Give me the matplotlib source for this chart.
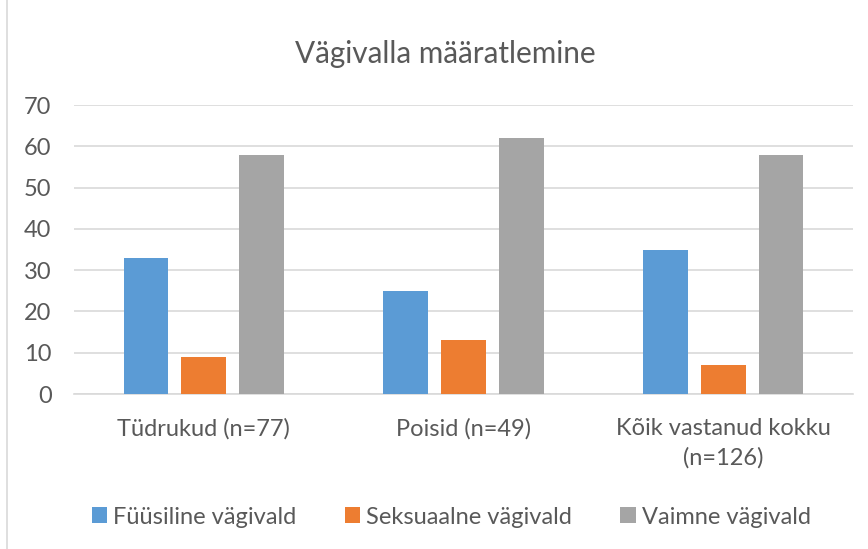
import matplotlib
matplotlib.use("Agg")
import matplotlib.pyplot as plt
import numpy as np
from matplotlib.lines import Line2D

categories = ["Tüdrukud (n=77)", "Poisid (n=49)", "Kõik vastanud kokku\n(n=126)"]
series = ["Füüsiline vägivald", "Seksuaalne vägivald", "Vaimne vägivald"]
fyysiline = [33, 25, 35]
seksuaalne = [9, 13, 7]
vaimne = [58, 62, 58]
colors = ["#5B9BD5", "#ED7D31", "#A5A5A5"]

plt.rcParams["font.family"] = ["Lato", "DejaVu Sans"]
TEXT = "#595959"

fig = plt.figure(figsize=(8.68, 5.49), dpi=100)
ax = fig.add_axes([0.085, 0.2823, 0.898, 0.5264])

x = np.arange(len(categories))
w = 0.173
off = 0.222
for i, (vals, c, lab) in enumerate(zip([fyysiline, seksuaalne, vaimne], colors, series)):
    ax.bar(x + (i - 1) * off, vals, width=w, color=c, label=lab, zorder=3)

ax.set_xlim(-0.5, 2.5)
ax.set_ylim(0, 70)
ax.set_yticks(range(0, 71, 10))
ax.yaxis.grid(True, color="#D9D9D9", linewidth=1.2, zorder=0)
for s in ["top", "right", "left"]:
    ax.spines[s].set_visible(False)
ax.spines["bottom"].set_color("#D9D9D9")
ax.spines["bottom"].set_linewidth(1.2)
ax.tick_params(axis="both", length=0, labelsize=17, colors=TEXT)
ax.tick_params(axis="y", pad=16)
ax.set_xticks(x)
ax.set_xticklabels(categories, linespacing=1.5)
ax.tick_params(axis="x", pad=17)

fig.text(0.5127, 1 - 63 / 549, "Vägivalla määratlemine", ha="center",
         va="baseline", fontsize=21.4, color=TEXT)

handles, labels = ax.get_legend_handles_labels()
leg = fig.legend(handles, labels, loc="center", bbox_to_anchor=(0.52, 0.058),
                 ncol=3, frameon=False, fontsize=17, handlelength=0.65,
                 handleheight=0.65, handletextpad=0.25, columnspacing=2.05)
for t in leg.get_texts():
    t.set_color(TEXT)

fig.add_artist(Line2D([0.008, 0.008], [0, 1], transform=fig.transFigure,
                      color="#D9D9D9", linewidth=1.2))

fig.savefig("out.png", dpi=100)
